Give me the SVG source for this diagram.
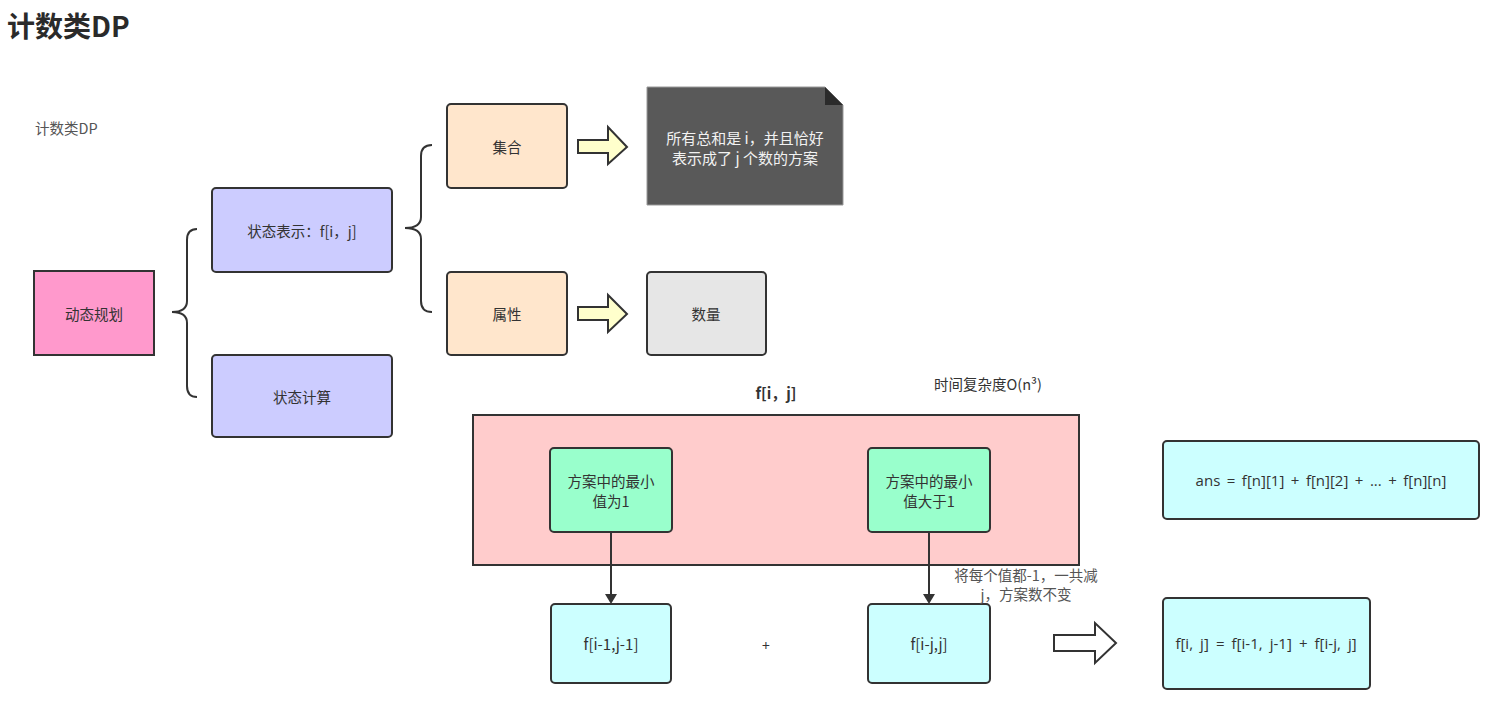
<svg xmlns="http://www.w3.org/2000/svg" width="1494" height="721" viewBox="0 0 1494 721">
<style>
text{font-family:"Noto Sans CJK SC","Liberation Sans",sans-serif;font-size:14px;fill:#333;}
.c{text-anchor:middle;dominant-baseline:central;}
.lat{font-family:"Open Sans","Noto Sans CJK SC",sans-serif;word-spacing:2.6px;}
.box{stroke:#333;stroke-width:2;}
.brace{fill:none;stroke:#333;stroke-width:2;}
.ya{fill:#ffffcc;stroke:#333;stroke-width:2;stroke-linejoin:miter;}
.ha{fill:#fff;stroke:#333;stroke-width:2;}
.edge{stroke:#333;stroke-width:2;fill:none;}
</style>
<defs>
<marker id="ah" markerWidth="10" markerHeight="12" refX="8" refY="6" orient="auto" markerUnits="userSpaceOnUse">
<path d="M0,0 L10,6 L0,12 Z" fill="#333"/>
</marker>
</defs>
<rect width="1494" height="721" fill="#fff"/>
<text x="7" y="37" style="font-size:28px;font-weight:bold;fill:#2a2a2a">计数类DP</text>
<text x="35" y="134" style="font-size:14.5px;fill:#555">计数类DP</text>

<g id="dp"><rect class="box" x="34" y="271" width="120" height="84" fill="#ff99cc"/><text class="c" x="94" y="313" style="font-size:14.5px">动态规划</text></g>
<g id="brace1"><path class="brace" d="M197,229 Q187,229 187,240 L187,301 Q187,312 172,312 Q187,312 187,323 L187,386 Q187,397 197,397"/></g>
<g id="state-repr"><rect class="box" x="212" y="188" width="180" height="84" rx="4" fill="#ccccff"/><text class="c" x="302" y="230" style="font-size:14.5px">状态表示：f[i，j]</text></g>
<g id="state-calc"><rect class="box" x="212" y="355" width="180" height="82" rx="4" fill="#ccccff"/><text class="c" x="302" y="396" style="font-size:14.5px">状态计算</text></g>
<g id="brace2"><path class="brace" d="M432,145 Q421,145 421,156 L421,217 Q421,228 405,228 Q421,228 421,239 L421,301 Q421,312 432,312"/></g>
<g id="set"><rect class="box" x="447" y="104" width="120" height="84" rx="4" fill="#ffe6cc"/><text class="c" x="507" y="146" style="font-size:14.5px">集合</text></g>
<g id="attr"><rect class="box" x="447" y="272" width="120" height="83" rx="4" fill="#ffe6cc"/><text class="c" x="507" y="313" style="font-size:14.5px">属性</text></g>
<g id="note"><path d="M647,87 L825,87 L843,105 L843,205 L647,205 Z" fill="#595959" stroke="#999" stroke-width="1"/><path d="M825,87 L843,105 L825,105 Z" fill="#2b2b2b"/><text class="c" x="745" y="137" style="fill:#f2f2f2;font-size:15px">所有总和是 i，并且恰好</text><text class="c" x="745" y="157" style="fill:#f2f2f2;font-size:15px">表示成了 j 个数的方案</text></g>
<g id="count"><rect class="box" x="647" y="272" width="119" height="83" rx="4" fill="#e6e6e6"/><text class="c" x="706" y="313" style="font-size:14.5px">数量</text></g>

<text class="c" x="776" y="392" style="font-weight:bold;font-size:15px">f[i，j]</text>
<text class="c" x="988" y="383" style="font-size:14.5px">时间复杂度O(n³)</text>
<g id="frame"><rect class="box" x="473" y="415" width="606" height="150" fill="#ffcccc"/></g>
<g id="min1"><rect class="box" x="550" y="448" width="122" height="84" rx="4" fill="#99ffcc"/><text class="c" x="611" y="480" style="font-size:14.5px">方案中的最小</text><text class="c" x="611" y="500" style="font-size:14.5px">值为1</text></g>
<g id="mingt1"><rect class="box" x="868" y="448" width="122" height="84" rx="4" fill="#99ffcc"/><text class="c" x="929" y="480" style="font-size:14.5px">方案中的最小</text><text class="c" x="929" y="500" style="font-size:14.5px">值大于1</text></g>
<g id="f1"><rect class="box" x="551" y="604" width="120" height="79" rx="4" fill="#ccffff"/><text class="c" x="611" y="643" style="font-size:15px">f[i-1,j-1]</text></g>
<g id="f2"><rect class="box" x="868" y="604" width="122" height="79" rx="4" fill="#ccffff"/><text class="c" x="929" y="643" style="font-size:15px">f[i-j,j]</text></g>
<text class="c" x="766" y="645">+</text>
<g id="ans"><rect class="box" x="1163" y="441" width="316" height="78" rx="4" fill="#ccffff"/><text class="c lat" x="1321" y="480" style="font-size:15px">ans = f[n][1] + f[n][2] + ... + f[n][n]</text></g>
<g id="formula"><rect class="box" x="1163" y="598" width="207" height="91" rx="4" fill="#ccffff"/><text class="c lat" x="1266" y="643" style="font-size:15px;word-spacing:3.2px">f[i, j] = f[i-1, j-1] + f[i-j, j]</text></g>

<g id="connectors">
<path class="ya" d="M578,140 L608,140 L608,127 L627,147 L608,164 L608,153 L578,153 Z"/>
<path class="ya" d="M578,307 L608,307 L608,295 L627,314 L608,332 L608,320 L578,320 Z"/>
<path class="edge" d="M611,532 L611,602" marker-end="url(#ah)"/>
<path class="edge" d="M929,532 L929,602" marker-end="url(#ah)"/>
<path class="ha" d="M1054,635 L1095,635 L1095,623 L1116,643 L1095,663 L1095,651 L1054,651 Z"/>
<text class="c" x="1026" y="574" style="font-size:14.5px;fill:#555">将每个值都-1，一共减</text>
<text class="c" x="1026" y="593" style="font-size:14.5px;fill:#555">j，方案数不变</text>
</g>
</svg>
